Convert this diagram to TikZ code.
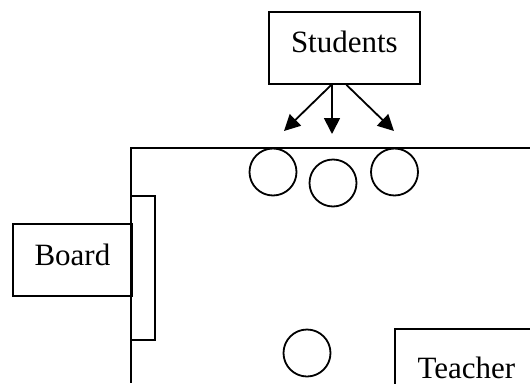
\documentclass[tikz,border=0pt]{standalone}
\usepackage{fontspec}
\setmainfont{Liberation Serif}
\usetikzlibrary{arrows.meta}
\begin{document}
\begin{tikzpicture}[x=1pt, y=-1pt, line width=1.8pt,
  box/.style={draw, inner sep=0pt, anchor=north west, align=center,
    font=\fontsize{31}{37}\selectfont},
  seat/.style={draw, circle, minimum size=47pt, inner sep=0pt},
  pointer/.style={-{Triangle[length=16pt,width=16pt]}}]
\useasboundingbox (0,0) rectangle (530,383);

% classroom walls
\draw (530,148) -| (131,383);

% whiteboard on the left wall
\node[draw, inner sep=0pt, minimum width=24pt, minimum height=144pt] (strip) at (143,268) {};

% labels
\node[box, minimum width=151pt, text height=41pt, text depth=31pt] (students) at (268,11) {Students};
\node[box, minimum width=119pt, text height=42pt, text depth=30pt] (board) at (12,223) {Board};
\node[box, minimum width=143pt, text height=50pt, text depth=20pt] (teacher) at (394,328) {Teacher};

% seats
\node[seat] (s1) at (273,172) {};
\node[seat] (s2) at (333,183) {};
\node[seat] (s3) at (394.5,172) {};
\node[seat] (s4) at (307,353) {};

% arrows from the students box
\coordinate (t1) at (284,131);
\coordinate (t2) at (332,134);
\coordinate (t3) at (394,131);
\draw[pointer] ([xshift=-13pt]students.south) -- (t1);
\draw[pointer] (students.south -| t2) -- (t2);
\draw[pointer] ([xshift=2pt]students.south) -- (t3);
\end{tikzpicture}
\end{document}
